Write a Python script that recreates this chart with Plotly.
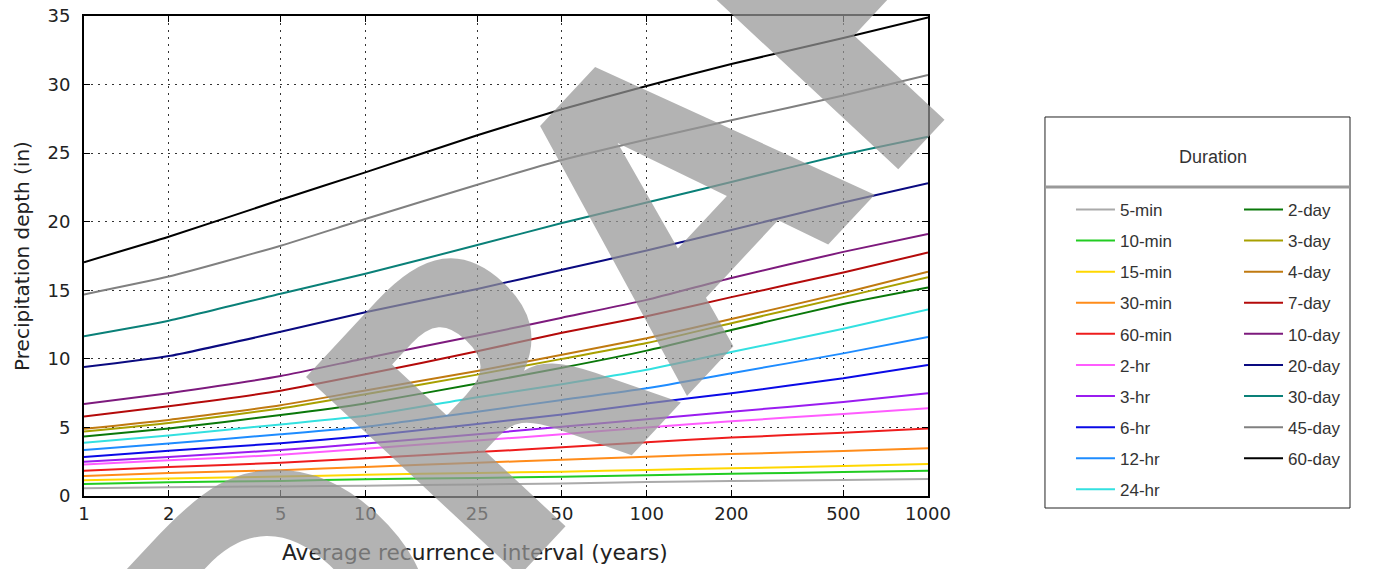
import plotly.graph_objects as go

years = [1, 2, 5, 10, 25, 50, 100, 200, 500, 1000]
tick_labels = ["1", "2", "5", "10", "25", "50", "100", "200", "500", "1000"]

durations = ["5-min", "10-min", "15-min", "30-min", "60-min", "2-hr", "3-hr", "6-hr", "12-hr", "24-hr",
             "2-day", "3-day", "4-day", "7-day", "10-day", "20-day", "30-day", "45-day", "60-day"]

d_5min = [0.56, 0.63, 0.70, 0.75, 0.84, 0.92, 1.02, 1.09, 1.17, 1.24]
d_10min = [0.87, 1.00, 1.10, 1.22, 1.32, 1.41, 1.51, 1.62, 1.75, 1.84]
d_15min = [1.15, 1.28, 1.42, 1.55, 1.68, 1.77, 1.90, 2.02, 2.19, 2.33]
d_30min = [1.46, 1.68, 1.88, 2.12, 2.42, 2.65, 2.87, 3.06, 3.28, 3.48]
d_60min = [1.85, 2.12, 2.42, 2.75, 3.20, 3.55, 3.92, 4.26, 4.62, 4.92]
d_2hr = [2.30, 2.60, 3.00, 3.45, 4.05, 4.50, 5.00, 5.45, 5.98, 6.40]
d_3hr = [2.50, 2.85, 3.35, 3.82, 4.50, 5.05, 5.60, 6.15, 6.85, 7.50]
d_6hr = [2.85, 3.30, 3.85, 4.38, 5.25, 5.95, 6.75, 7.50, 8.58, 9.55]
d_12hr = [3.35, 3.82, 4.50, 5.05, 6.15, 7.00, 7.85, 8.95, 10.40, 11.60]
d_24hr = [3.88, 4.42, 5.22, 5.85, 7.20, 8.15, 9.20, 10.50, 12.20, 13.60]
d_2day = [4.33, 4.92, 5.90, 6.75, 8.20, 9.35, 10.60, 12.10, 14.00, 15.20]
d_3day = [4.70, 5.33, 6.38, 7.42, 8.85, 10.00, 11.15, 12.60, 14.50, 15.95]
d_4day = [4.90, 5.55, 6.62, 7.70, 9.12, 10.30, 11.50, 12.90, 14.80, 16.35]
d_7day = [5.80, 6.55, 7.68, 8.87, 10.55, 11.90, 13.10, 14.50, 16.30, 17.75]
d_10day = [6.70, 7.50, 8.75, 10.05, 11.70, 13.00, 14.30, 15.90, 17.80, 19.10]
d_20day = [9.40, 10.20, 11.97, 13.40, 15.10, 16.50, 17.90, 19.40, 21.40, 22.80]
d_30day = [11.65, 12.78, 14.75, 16.20, 18.30, 19.90, 21.40, 22.90, 24.90, 26.20]
d_45day = [14.70, 16.00, 18.25, 20.20, 22.70, 24.50, 26.00, 27.40, 29.20, 30.70]
d_60day = [17.05, 18.90, 21.60, 23.60, 26.30, 28.20, 29.90, 31.50, 33.40, 34.90]

series = [d_5min, d_10min, d_15min, d_30min, d_60min, d_2hr, d_3hr, d_6hr, d_12hr, d_24hr,
          d_2day, d_3day, d_4day, d_7day, d_10day, d_20day, d_30day, d_45day, d_60day]

colors = ["#aaaaaa", "#22cc22", "#ffd700", "#ff8c1a", "#ee1c1c", "#ff5cff", "#9a1cf0", "#0a0ae6",
          "#1e8cff", "#33e0e0", "#0a780a", "#a8a000", "#c07a10", "#b40a0a", "#7d1a7d", "#0a0a80",
          "#0a8078", "#808080", "#000000"]

fig = go.Figure()
for i, (name, vals, col) in enumerate(zip(durations, series, colors)):
    fig.add_trace(go.Scatter(
        x=years, y=vals, mode="lines", name=name,
        line=dict(color=col, width=2, shape="spline", smoothing=0.5),
        legend="legend" if i < 10 else "legend2",
        legendgroup=name,
    ))

legend_common = dict(
    xanchor="left", yanchor="top", bgcolor="rgba(0,0,0,0)", borderwidth=0,
    traceorder="grouped", tracegroupgap=6, itemwidth=39,
    font=dict(family="Liberation Sans, Arial, sans-serif", size=17, color="#333333"),
)

fig.update_layout(
    width=1390, height=569,
    paper_bgcolor="white", plot_bgcolor="white",
    margin=dict(l=84, r=462, t=16, b=73, autoexpand=False),
    showlegend=True,
    legend=dict(x=1.1694, y=0.6335, **legend_common),
    legend2=dict(x=1.3685, y=0.6335, **legend_common),
    font=dict(family="DejaVu Sans, sans-serif", size=16, color="#222222"),
)

axis_common = dict(
    showline=True, linecolor="black", linewidth=2, mirror="ticks",
    ticks="inside", ticklen=6, tickcolor="black", tickwidth=1, automargin=False,
    ticklabeloverflow="allow",
    showgrid=True, gridcolor="#333333", gridwidth=1, griddash="2px,5px",
    zeroline=False, tickfont=dict(family="DejaVu Sans, sans-serif", size=18, color="#222222"),
)

fig.update_xaxes(
    type="log", range=[0, 3], tickvals=years, ticktext=tick_labels,
    **axis_common,
)
fig.update_yaxes(
    range=[0, 35], dtick=5, ticklabelstandoff=8,
    title=dict(text="Precipitation depth (in)", standoff=12,
               font=dict(family="DejaVu Sans, sans-serif", size=20, color="#222222")),
    **axis_common,
)

# x-axis title (sits slightly left of centre in the reference)
fig.add_annotation(text="Average recurrence interval (years)", xref="paper", yref="paper",
                   x=0.463, y=-0.117, showarrow=False, xanchor="center", yanchor="middle",
                   font=dict(family="DejaVu Sans, sans-serif", size=21.7, color="#222222"))

# legend box, title and separator
fig.add_shape(type="rect", xref="paper", yref="paper", x0=1.1386, x1=1.5, y0=-0.025, y1=0.7896,
              line=dict(color="#222222", width=1), fillcolor="rgba(0,0,0,0)", layer="below")
fig.add_shape(type="line", xref="paper", yref="paper", x0=1.1386, x1=1.5, y0=0.6438, y1=0.6438,
              line=dict(color="#999999", width=3))
fig.add_annotation(text="Duration", xref="paper", yref="paper", x=1.3377, y=0.70625,
                   showarrow=False, xanchor="center", yanchor="middle",
                   font=dict(family="Liberation Sans, Arial, sans-serif", size=18, color="#333333"))

# watermark
fig.add_annotation(text="DRAFT", xref="paper", yref="paper", x=0.672, y=0.55,
                   showarrow=False, xanchor="center", yanchor="middle", textangle=-47,
                   font=dict(family="DejaVu Sans Condensed, Liberation Sans Narrow, Liberation Sans, sans-serif",
                             size=400, weight="bold", color="rgba(150,150,150,0.72)"))

fig.write_html("out.html", config={"displayModeBar": False},
               post_script="document.body.style.margin='0';")
